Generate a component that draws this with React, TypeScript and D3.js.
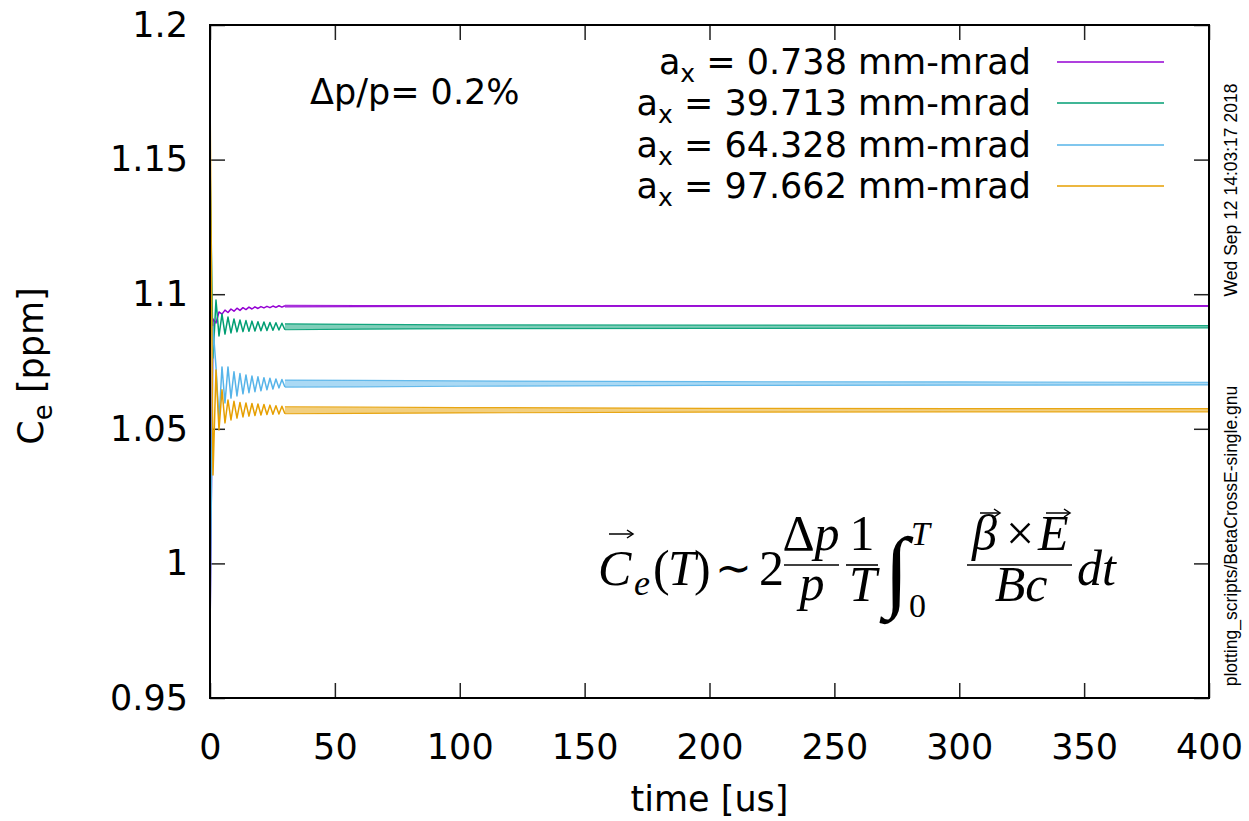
import { useRef, useEffect } from "react";
import * as d3 from "d3";

// axis ticks
const xTicks = [0, 50, 100, 150, 200, 250, 300, 350, 400];
const yTicks = [0.95, 1, 1.05, 1.1, 1.15, 1.2];
const yTickLabels = ["0.95", "1", "1.05", "1.1", "1.15", "1.2"];

// legend
const emittances = ["0.738", "39.713", "64.328", "97.662"];
const colors = ["#9400d3", "#009e73", "#56b4e9", "#e69f00"];

// early transient, sampled at peaks / troughs (us)
const earlyTimes = [0, 1.2, 2.4, 3.6, 4.8, 6, 7.2, 8.4, 9.6, 10.8, 12, 13.2, 14.4, 15.6, 16.8, 18, 19.2, 20.4, 21.6, 22.8, 24, 25.2, 26.4, 27.6, 28.8, 30];
const purpleEarly = [0.9727, 1.0908, 1.0893, 1.0934, 1.0926, 1.0941, 1.0932, 1.0945, 1.0937, 1.0948, 1.094, 1.095, 1.0943, 1.0952, 1.0945, 1.0953, 1.0947, 1.0954, 1.0949, 1.0955, 1.095, 1.0956, 1.0951, 1.0957, 1.0952, 1.0957];
const greenEarly = [1.1499, 1.0763, 1.0978, 1.0845, 1.0926, 1.0852, 1.0915, 1.0856, 1.0908, 1.086, 1.0904, 1.0861, 1.0902, 1.0862, 1.09, 1.0863, 1.0898, 1.0864, 1.0897, 1.0865, 1.0895, 1.0866, 1.0894, 1.0867, 1.0892, 1.0868];
const blueEarly = [0.9727, 1.088, 1.073, 1.0533, 1.073, 1.0596, 1.073, 1.0614, 1.0712, 1.0622, 1.0705, 1.063, 1.07, 1.0634, 1.0696, 1.0638, 1.0693, 1.0641, 1.069, 1.0645, 1.0688, 1.0648, 1.0685, 1.0652, 1.0683, 1.0655];
const orangeEarly = [1.1762, 1.0328, 1.0718, 1.0496, 1.0645, 1.0522, 1.0607, 1.0533, 1.0602, 1.054, 1.0598, 1.0544, 1.0596, 1.0547, 1.0594, 1.0549, 1.0592, 1.0551, 1.059, 1.0553, 1.0588, 1.0554, 1.0586, 1.0555, 1.0584, 1.0556];

// later: ripple envelope (upper / lower)
const tailTimes = [30, 60, 100, 200, 300, 400];
const purpleHigh = [1.0959, 1.0958, 1.0958, 1.0958, 1.0958, 1.0958];
const purpleLow = [1.0953, 1.0954, 1.0955, 1.0955, 1.0955, 1.0955];
const greenHigh = [1.089, 1.0888, 1.0886, 1.0885, 1.0884, 1.0883];
const greenLow = [1.0868, 1.087, 1.0872, 1.0873, 1.0874, 1.0875];
const blueHigh = [1.0681, 1.068, 1.0678, 1.0675, 1.0674, 1.0673];
const blueLow = [1.0655, 1.0656, 1.0658, 1.0661, 1.0662, 1.0663];
const orangeHigh = [1.0582, 1.0581, 1.0579, 1.0576, 1.0575, 1.0575];
const orangeLow = [1.0556, 1.0557, 1.0559, 1.0562, 1.0563, 1.0563];

const early = [purpleEarly, greenEarly, blueEarly, orangeEarly];
const highs = [purpleHigh, greenHigh, blueHigh, orangeHigh];
const lows = [purpleLow, greenLow, blueLow, orangeLow];

export default function App() {
  const ref = useRef<SVGSVGElement>(null);

  useEffect(() => {
    document.body.style.margin = "0";
    const svg = d3.select(ref.current);
    svg.selectAll("*").remove();

    const W = 1249;
    const H = 821;
    const left = 210;
    const right = 1209;
    const top = 25;
    const bottom = 698;
    const sans = "DejaVu Sans, sans-serif";
    const serif = "Liberation Serif, serif";

    svg.attr("width", W).attr("height", H).style("background", "#fff");

    const x = d3.scaleLinear().domain([0, 400]).range([left, right]);
    const y = d3.scaleLinear().domain([0.95, 1.2]).range([bottom, top]);

    svg
      .append("defs")
      .append("clipPath")
      .attr("id", "plotclip")
      .append("rect")
      .attr("x", left)
      .attr("y", top)
      .attr("width", right - left)
      .attr("height", bottom - top);

    // axes with inward ticks on all four sides
    const tick = 15;
    const gl = svg
      .append("g")
      .attr("transform", `translate(${left},0)`)
      .call(
        d3
          .axisLeft(y)
          .tickValues(yTicks)
          .tickSize(-tick)
          .tickPadding(22)
          .tickFormat((d, i) => yTickLabels[i])
      );
    const gb = svg
      .append("g")
      .attr("transform", `translate(0,${bottom})`)
      .call(d3.axisBottom(x).tickValues(xTicks).tickSize(-tick).tickPadding(36));
    const gr = svg
      .append("g")
      .attr("transform", `translate(${right},0)`)
      .call(d3.axisRight(y).tickValues(yTicks).tickSize(-tick).tickFormat(() => ""));
    const gt = svg
      .append("g")
      .attr("transform", `translate(0,${top})`)
      .call(d3.axisTop(x).tickValues(xTicks).tickSize(-tick).tickFormat(() => ""));
    [gl, gb, gr, gt].forEach((g) => {
      g.select(".domain").remove();
      g.selectAll(".tick line").attr("stroke", "#222").attr("stroke-width", 1.5);
      g.selectAll(".tick text")
        .attr("fill", "#000")
        .style("font-family", sans)
        .style("font-size", "35px");
    });

    // series: transient as a line, later ripple as its envelope band
    const plot = svg.append("g").attr("clip-path", "url(#plotclip)");
    const line = d3
      .line<number>()
      .x((d, i) => x(earlyTimes[i]))
      .y((d) => y(d));
    const edge = d3
      .line<number>()
      .x((d, i) => x(tailTimes[i]))
      .y((d) => y(d));

    early.forEach((vals, s) => {
      const hi = highs[s];
      const lo = lows[s];
      plot
        .append("path")
        .datum(hi)
        .attr(
          "d",
          d3
            .area<number>()
            .x((d, i) => x(tailTimes[i]))
            .y0((d, i) => y(lo[i]))
            .y1((d) => y(d))
        )
        .attr("fill", colors[s])
        .attr("fill-opacity", 0.5)
        .attr("stroke", "none");
      [hi, lo].forEach((e) =>
        plot
          .append("path")
          .datum(e)
          .attr("d", edge)
          .attr("fill", "none")
          .attr("stroke", colors[s])
          .attr("stroke-opacity", 0.9)
          .attr("stroke-width", 1.2)
      );
      plot
        .append("path")
        .datum(vals)
        .attr("d", line)
        .attr("fill", "none")
        .attr("stroke", colors[s])
        .attr("stroke-width", 1.5)
        .attr("stroke-linejoin", "round");
    });

    // border
    svg
      .append("rect")
      .attr("x", left)
      .attr("y", top)
      .attr("width", right - left)
      .attr("height", bottom - top)
      .attr("fill", "none")
      .attr("stroke", "#000")
      .attr("stroke-width", 2);

    // legend
    const rowY = [62, 103, 145, 186];
    emittances.forEach((e, i) => {
      const t = svg
        .append("text")
        .attr("x", 1031)
        .attr("y", rowY[i] + 12)
        .attr("text-anchor", "end")
        .style("font-family", sans)
        .style("font-size", "35px");
      t.append("tspan").text("a");
      t.append("tspan").attr("dy", 8).style("font-size", "25px").text("x");
      t.append("tspan").attr("dy", -8).text(` = ${e} mm-mrad`);
      svg
        .append("line")
        .attr("x1", 1057)
        .attr("x2", 1164)
        .attr("y1", rowY[i])
        .attr("y2", rowY[i])
        .attr("stroke", colors[i])
        .attr("stroke-width", 1.5);
    });

    // labels
    svg
      .append("text")
      .attr("x", 310)
      .attr("y", 103.5)
      .style("font-family", sans)
      .style("font-size", "35px")
      .text("Δp/p= 0.2%");

    svg
      .append("text")
      .attr("x", (left + right) / 2)
      .attr("y", 811)
      .attr("text-anchor", "middle")
      .style("font-family", sans)
      .style("font-size", "35px")
      .text("time [us]");

    const yl = svg
      .append("text")
      .attr("transform", "translate(43,366) rotate(-90)")
      .attr("text-anchor", "middle")
      .style("font-family", sans)
      .style("font-size", "35px");
    yl.append("tspan").text("C");
    yl.append("tspan").attr("dy", 9).style("font-size", "26px").text("e");
    yl.append("tspan").attr("dy", -9).text(" [ppm]");

    svg
      .append("text")
      .attr("transform", "translate(1237,190) rotate(-90)")
      .attr("text-anchor", "middle")
      .style("font-family", "Liberation Sans, Arial, sans-serif")
      .style("font-size", "17.5px")
      .text("Wed Sep 12 14:03:17 2018");
    svg
      .append("text")
      .attr("transform", "translate(1237,536) rotate(-90)")
      .attr("text-anchor", "middle")
      .style("font-family", "Liberation Sans, Arial, sans-serif")
      .style("font-size", "17.5px")
      .text("plotting_scripts/BetaCrossE-single.gnu");

    // formula
    const fm = svg.append("g").style("font-family", serif);
    const txt = (
      s: string,
      px: number,
      py: number,
      size: number,
      italic: boolean,
      anchor = "start"
    ) =>
      fm
        .append("text")
        .attr("x", px)
        .attr("y", py)
        .attr("text-anchor", anchor)
        .style("font-size", `${size}px`)
        .style("font-style", italic ? "italic" : "normal")
        .text(s);
    const arrow = (px: number, py: number, w: number) => {
      fm.append("line")
        .attr("x1", px)
        .attr("x2", px + w)
        .attr("y1", py)
        .attr("y2", py)
        .attr("stroke", "#000")
        .attr("stroke-width", 1.5);
      fm.append("path")
        .attr("d", `M${px + w - 6},${py - 4} L${px + w},${py} L${px + w - 6},${py + 4}`)
        .attr("fill", "none")
        .attr("stroke", "#000")
        .attr("stroke-width", 1.5);
    };
    const bar = (x1: number, x2: number, py: number) =>
      fm.append("line")
        .attr("x1", x1)
        .attr("x2", x2)
        .attr("y1", py)
        .attr("y2", py)
        .attr("stroke", "#000")
        .attr("stroke-width", 1.6);

    const base = 585;
    const fs = 50;
    txt("C", 598, base, fs, true);
    arrow(609, 534, 24);
    txt("e", 634, base + 10, 36, true);
    txt("(", 653, base, fs, false);
    txt("T", 668, base, fs, true);
    txt(")", 694, base, fs, false);
    txt("∼", 715, base - 2, 44, false);
    txt("2", 759, base, fs, false);
    bar(784, 839, 565);
    const num = fm
      .append("text")
      .attr("x", 811)
      .attr("y", 550)
      .attr("text-anchor", "middle")
      .style("font-size", `${fs}px`);
    num.append("tspan").text("Δ");
    num.append("tspan").style("font-style", "italic").text("p");
    txt("p", 812, 600, fs, true, "middle");
    bar(846, 878, 565);
    txt("1", 862, 550, fs, false, "middle");
    txt("T", 863, 601, fs, true, "middle");
    txt("∫", 884, 600, 90, true);
    txt("T", 911, 545, 34, true);
    txt("0", 909, 617, 34, false);
    bar(967, 1072, 565);
    txt("β", 972, 550, fs, true);
    arrow(980, 513, 20);
    txt("×", 1006, 550, fs, false);
    txt("E", 1038, 550, fs, true);
    arrow(1046, 513, 24);
    txt("Bc", 1021, 601, fs, true, "middle");
    txt("dt", 1077, base, fs, true);
  }, []);

  return <svg ref={ref} style={{ display: "block" }} />;
}
